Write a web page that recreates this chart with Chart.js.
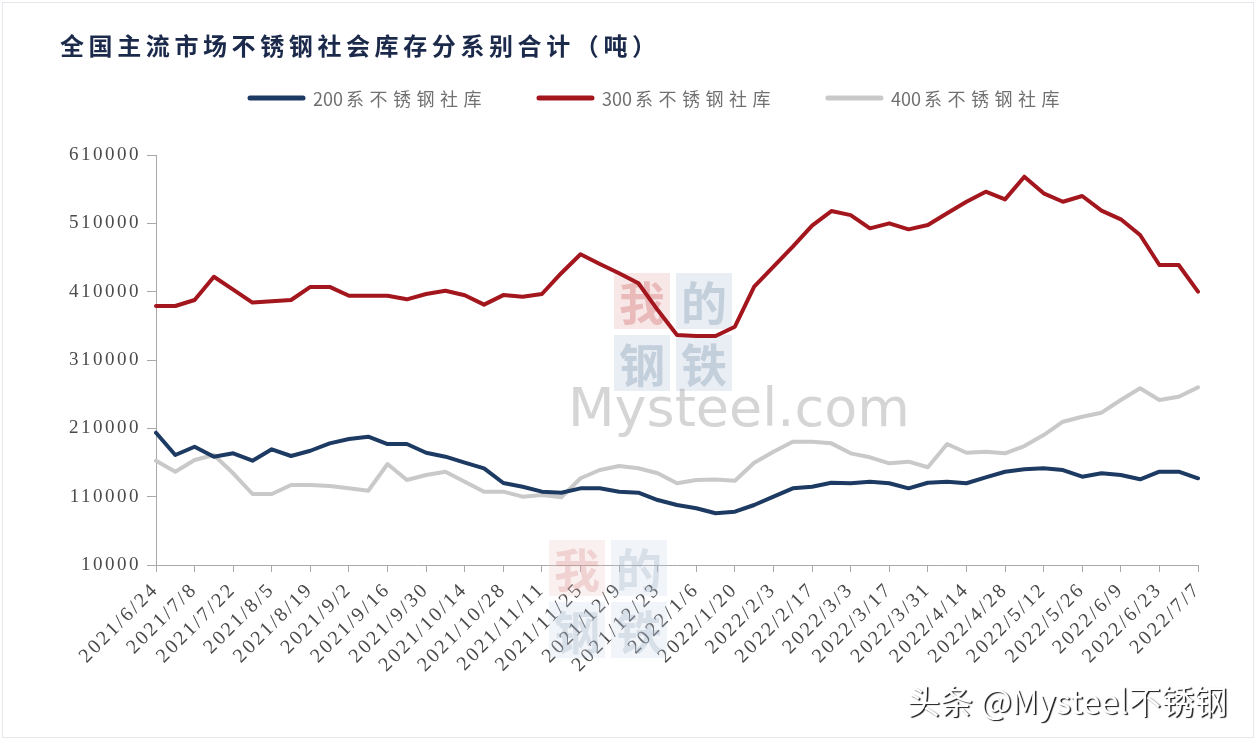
<!DOCTYPE html>
<html lang="zh-CN">
<head>
<meta charset="utf-8">
<title>全国主流市场不锈钢社会库存分系别合计（吨）</title>
<script src="https://cdn.jsdelivr.net/npm/chart.js@4.4.0/dist/chart.umd.min.js"></script>
<style>
    html, body { margin: 0; padding: 0; background: #fff; }
    #kucun { display: block; }
</style>
</head>
<body>
<canvas id="kucun" width="1256" height="740"></canvas>
<script>
const titleText = '全国主流市场不锈钢社会库存分系别合计（吨）';

const weeks = [
    '2021/6/24', '2021/7/1', '2021/7/8', '2021/7/15', '2021/7/22', '2021/7/29',
    '2021/8/5', '2021/8/12', '2021/8/19', '2021/8/26',
    '2021/9/2', '2021/9/9', '2021/9/16', '2021/9/23', '2021/9/30',
    '2021/10/7', '2021/10/14', '2021/10/21', '2021/10/28',
    '2021/11/4', '2021/11/11', '2021/11/18', '2021/11/25',
    '2021/12/2', '2021/12/9', '2021/12/16', '2021/12/23', '2021/12/30',
    '2022/1/6', '2022/1/13', '2022/1/20', '2022/1/27',
    '2022/2/3', '2022/2/10', '2022/2/17', '2022/2/24',
    '2022/3/3', '2022/3/10', '2022/3/17', '2022/3/24', '2022/3/31',
    '2022/4/7', '2022/4/14', '2022/4/21', '2022/4/28',
    '2022/5/5', '2022/5/12', '2022/5/19', '2022/5/26',
    '2022/6/2', '2022/6/9', '2022/6/16', '2022/6/23', '2022/6/30',
    '2022/7/7'
];

const stock200 = [
    203600, 171000, 183100, 168500, 173400, 162600, 179300, 169500, 177200, 188000,
    194400, 197700, 187000, 187000, 174300, 168500, 159700, 151500, 130000, 124600,
    117300, 115800, 122200, 122200, 117300, 115800, 105100, 97800, 93000, 85700,
    88000, 97800, 110000, 122200, 124600, 130400, 129600, 131900, 129600, 122200,
    130400, 131900, 129600, 138300, 146500, 150000, 151500, 149000, 139200, 144200,
    141700, 135400, 146500, 146500, 136900
];

const stock300 = [
    389000, 389000, 397800, 431800, 413000, 394000, 396000, 397800, 417000, 417000,
    404000, 404000, 404000, 398800, 406600, 411400, 404700, 391000, 405000, 402600,
    406600, 437000, 464700, 450500, 437000, 422300, 383100, 346600, 345100, 345100,
    358700, 417300, 446500, 475800, 506700, 528000, 522000, 502700, 510000, 501200,
    507500, 524700, 541600, 556300, 545100, 578200, 553900, 541600, 550000, 528500,
    515900, 492900, 449000, 449000, 410000
];

const stock400 = [
    162600, 146500, 163700, 171000, 144200, 113900, 113900, 127000, 127000, 125600,
    122200, 118700, 157800, 134400, 141700, 146500, 131900, 117300, 117300, 110000,
    112400, 109000, 136900, 149000, 154900, 151500, 144200, 129600, 134400, 135000,
    133400, 159700, 175800, 190400, 190400, 188000, 173400, 167600, 158800, 161200,
    153000, 187000, 174300, 175800, 173400, 184100, 200200, 219700, 227000, 232900,
    251500, 268600, 251500, 256300, 270000
];

const seriesNames = ['200系不锈钢社库', '300系不锈钢社库', '400系不锈钢社库'];
const seriesColors = ['#1d3a63', '#a3161d', '#c9c9c9'];

const yMin = 10000;
const yMax = 610000;
const yStep = 100000;

const creditText = '头条 @Mysteel不锈钢';
const logoChars = ['我', '的', '钢', '铁'];

const axisColor = '#a9a9a9';
const tickSpacing = '2.5px';


// canvas letterSpacing gets reset whenever the canvas is resized, so set it again before layout and drawing
const spacingPlugin = {
    id: 'spacing',
    beforeLayout(chart) {
        chart.ctx.letterSpacing = tickSpacing;
    },
    beforeDraw(chart) {
        const ctx = chart.ctx;
        ctx.save();
        ctx.fillStyle = '#ffffff';
        ctx.fillRect(0, 0, chart.width, chart.height);
        ctx.restore();
        ctx.letterSpacing = tickSpacing;
    }
};

const watermarkPlugin = {
    id: 'watermark',
    beforeDatasetsDraw(chart) {
        const ctx = chart.ctx;
        ctx.save();
        ctx.letterSpacing = '0px';
        drawLogo(ctx, 614, 273, 0.4);
        drawLogo(ctx, 549, 540, 0.25);

        ctx.font = '54px "DejaVu Sans"';
        ctx.fillStyle = 'rgba(150, 150, 150, 0.4)';
        ctx.textBaseline = 'middle';
        ctx.textAlign = 'left';
        ctx.fillText('Mysteel.com', 568, 412);
        ctx.restore();
    },
    afterDraw(chart) {
        const ctx = chart.ctx;
        ctx.save();
        ctx.strokeStyle = '#e4e7ec';
        ctx.lineWidth = 1;
        ctx.strokeRect(2.5, 2.5, chart.width - 5, chart.height - 5);

        // title
        ctx.font = 'bold 24px "Noto Sans CJK SC"';
        ctx.letterSpacing = '4.6px';
        ctx.fillStyle = '#1b2a4a';
        ctx.textBaseline = 'middle';
        ctx.textAlign = 'left';
        ctx.fillText(titleText, 60, 46);

        drawLegend(ctx, chart.data.datasets);

        // credit overlay
        ctx.letterSpacing = '0px';
        ctx.font = '33px "Noto Sans CJK SC"';
        ctx.textAlign = 'left';
        ctx.shadowColor = 'rgba(0, 0, 0, 0.9)';
        ctx.shadowOffsetX = 1.5;
        ctx.shadowOffsetY = 1.5;
        ctx.shadowBlur = 1;
        ctx.fillStyle = '#ffffff';
        ctx.fillText(creditText, 907, 701);
        ctx.restore();
    }
};

function drawLogo(ctx, x, y, alpha) {
    const size = 56;
    const gap = 6;
    logoChars.forEach((znak, i) => {
        const bx = x + (i % 2) * (size + gap);
        const by = y + Math.floor(i / 2) * (size + gap);
        ctx.fillStyle = i === 0 ? `rgba(236, 196, 196, ${alpha})` : `rgba(200, 213, 228, ${alpha})`;
        ctx.fillRect(bx, by, size, size);
        ctx.fillStyle = i === 0 ? `rgba(214, 120, 120, ${alpha})` : `rgba(140, 160, 185, ${alpha})`;
        ctx.font = 'bold 46px "Noto Sans CJK SC"';
        ctx.textAlign = 'center';
        ctx.textBaseline = 'middle';
        ctx.fillText(znak, bx + size / 2, by + size / 2 + 2);
    });
}

function drawLegend(ctx, datasets) {
    let x = 248;
    const y = 98;
    datasets.forEach(ds => {
        ctx.strokeStyle = ds.borderColor;
        ctx.lineWidth = 5;
        ctx.lineCap = 'round';
        ctx.beginPath();
        ctx.moveTo(x + 2, y);
        ctx.lineTo(x + 55, y);
        ctx.stroke();

        const digits = ds.label.slice(0, 3);
        const rest = ds.label.slice(3);
        ctx.font = '18px "Noto Sans CJK SC"';
        ctx.fillStyle = '#707070';
        ctx.textAlign = 'left';
        ctx.textBaseline = 'middle';

        ctx.letterSpacing = '0px';
        const tx = x + 65;
        ctx.fillText(digits, tx, y + 1);
        const w1 = ctx.measureText(digits).width;

        ctx.letterSpacing = '5.5px';
        ctx.fillText(rest, tx + w1 + 3, y + 1);
        const w2 = ctx.measureText(rest).width;

        x = tx + w1 + 3 + w2 + 50;
    });
}

function makeDataset(index, values) {
    return {
        label: seriesNames[index],
        data: values,
        borderColor: seriesColors[index],
        backgroundColor: seriesColors[index],
        borderWidth: 4,
        tension: 0,
        pointRadius: 0,
        fill: false,
        borderJoinStyle: 'round',
        borderCapStyle: 'round'
    };
}

const canvas = document.getElementById('kucun');

new Chart(canvas, {
    type: 'line',
    data: {
        labels: weeks,
        datasets: [
            makeDataset(0, stock200),
            makeDataset(1, stock300),
            makeDataset(2, stock400)
        ]
    },
    options: {
        responsive: false,
        animation: false,
        layout: {
            padding: { top: 155, right: 58, left: 0, bottom: 0 }
        },
        plugins: {
            legend: { display: false },
            title: { display: false },
            tooltip: { enabled: false }
        },
        scales: {
            x: {
                offset: false,
                border: { color: axisColor, width: 1 },
                grid: {
                    drawOnChartArea: false,
                    tickLength: 7,
                    color: ctx => ctx.index % 2 === 0 ? axisColor : 'rgba(0,0,0,0)'
                },
                ticks: {
                    autoSkip: false,
                    minRotation: 45,
                    maxRotation: 45,
                    padding: 6,
                    color: '#4a4a4a',
                    font: { family: '"Liberation Serif"', size: 20 },
                    callback: function (value, index) {
                        return index % 2 === 0 ? this.getLabelForValue(value) : '';
                    }
                },
                afterFit(scale) {
                    scale.height = 175;
                }
            },
            y: {
                min: yMin,
                max: yMax,
                border: { color: axisColor, width: 1 },
                grid: {
                    drawOnChartArea: false,
                    tickLength: 9,
                    color: axisColor
                },
                ticks: {
                    stepSize: yStep,
                    padding: 6,
                    color: '#4a4a4a',
                    font: { family: '"Liberation Serif"', size: 19 },
                    callback: value => String(value)
                },
                afterFit(scale) {
                    scale.width = 156;
                }
            }
        }
    },
    plugins: [spacingPlugin, watermarkPlugin]
});
</script>
</body>
</html>
